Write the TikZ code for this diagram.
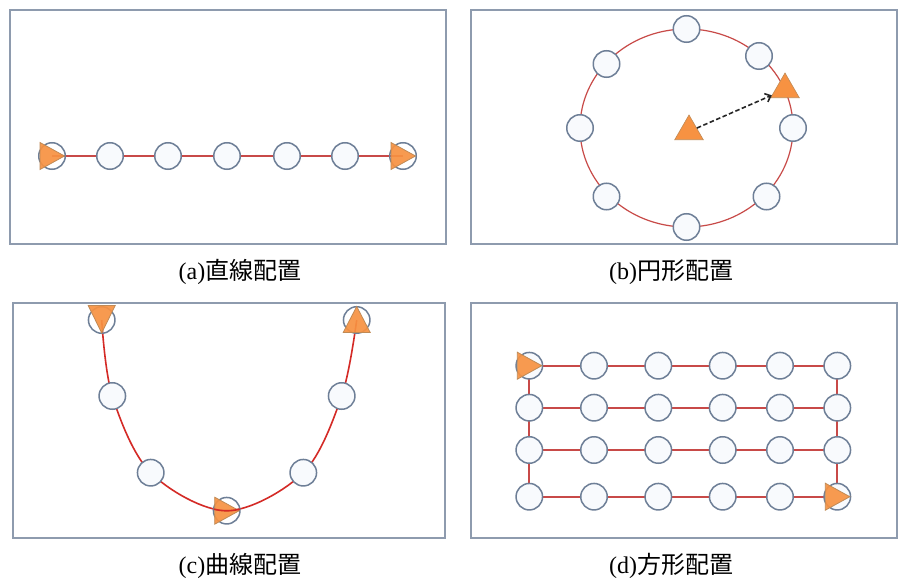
\documentclass[tikz,border=0pt]{standalone}
\usepackage{fontspec}
\setmainfont{Liberation Serif}
\newfontfamily\jp{Noto Sans CJK JP}
\usetikzlibrary{shapes.geometric,arrows.meta,calc}
\pgfdeclarelayer{panelL}
\pgfdeclarelayer{bg}
\pgfdeclarelayer{fg}
\pgfsetlayers{panelL,bg,main,fg}
\definecolor{framec}{HTML}{8E9BAE}
\definecolor{redl}{HTML}{C84A48}
\definecolor{redc}{HTML}{D42A26}
\definecolor{nodeb}{HTML}{6E7F97}
\definecolor{nodef}{HTML}{F8FAFD}
\definecolor{orangef}{HTML}{F79242}
\definecolor{oranged}{HTML}{C08A55}
\tikzset{
  panel/.style={draw=framec, line width=2pt, fill=white},
  nd/.style={circle, draw=nodeb, fill=nodef, line width=1.5pt, minimum size=26.5pt, inner sep=0pt},
  ndo/.style={circle, draw=nodeb, line width=1.5pt, minimum size=26.5pt, inner sep=0pt},
  tri/.style={fill=orangef, draw=oranged, line width=0.8pt, fill opacity=0.92},
  trinode/.style={regular polygon, regular polygon sides=3, fill=orangef, draw=oranged, line width=0.6pt, minimum size=33pt, inner sep=0pt},
  redline/.style={draw=redl, line width=2pt},
  redthin/.style={draw=redl, line width=1.2pt},
  redcurve/.style={draw=redc, line width=1.6pt},
  captxt/.style={font=\fontsize{24}{28}\selectfont},
  dasharrow/.style={draw=black!85, line width=1.6pt, dash pattern=on 4.5pt off 2.5pt, -{Straight Barb[length=5pt,width=9pt]}},
  triR/.pic={\path[tri] (-12,-13.5) -- (12.5,0) -- (-12,13.5) -- cycle;},
  triD/.pic={\path[tri] (-13.5,-14.5) -- (13.5,-14.5) -- (0,13) -- cycle;},
  triU/.pic={\path[tri] (0,-13.5) -- (13.5,12.5) -- (-13.5,12.5) -- cycle;}
}
\begin{document}
\begin{tikzpicture}[x=1pt,y=-1pt]
\useasboundingbox (0,0) rectangle (899,580);
% panels
\begin{pgfonlayer}{panelL}
\path[panel] (10,10) rectangle (446,244);
\path[panel] (471,10) rectangle (897,244);
\path[panel] (13,303) rectangle (445,538);
\path[panel] (471,303) rectangle (897,538);
\end{pgfonlayer}
% captions
\node[captxt] (capa) at (240,272) {(a){\jp 直線配置}};
\node[captxt] (capb) at (671,272) {(b){\jp 円形配置}};
\node[captxt] (capc) at (240,566) {(c){\jp 曲線配置}};
\node[captxt] (capd) at (671,566) {(d){\jp 方形配置}};

% ---------- (a) ----------
\node[ndo] (a1) at (52,156) {};
\node[nd]  (a2) at (110,156) {};
\node[nd]  (a3) at (168,156) {};
\node[nd]  (a4) at (227,156) {};
\node[nd]  (a5) at (287,156) {};
\node[nd]  (a6) at (345,156) {};
\node[ndo] (a7) at (403,156) {};
\begin{pgfonlayer}{bg}
\draw[redline] (a1.center) -- (a7.center);
\end{pgfonlayer}
\begin{pgfonlayer}{fg}
\pic at (a1) {triR};
\pic at (a7) {triR};
\end{pgfonlayer}

% ---------- (b) ----------
\coordinate (bc) at (686.5,128);
\begin{pgfonlayer}{bg}
\draw[redthin] (bc) ellipse [x radius=106.5, y radius=99];
\end{pgfonlayer}
\node[nd] (b1) at (686.5,29) {};
\node[nd] (b2) at (759,56) {};
\node[nd] (b3) at (793,128) {};
\node[nd] (b4) at (766.5,196.5) {};
\node[nd] (b5) at (686.5,227) {};
\node[nd] (b6) at (606.5,196.5) {};
\node[nd] (b7) at (580,128) {};
\node[nd] (b8) at (606.5,64) {};
\node[trinode] (bt1) at (689,131.5) {};
\node[trinode] (bt2) at (785,89.5) {};
\draw[dasharrow] (bt1) -- (bt2);

% ---------- (c) ----------
\node[ndo] (c1) at (101.7,320) {};
\node[nd]  (c2) at (112.3,396) {};
\node[nd]  (c3) at (150.7,472.7) {};
\node[ndo] (c4) at (226.7,510.7) {};
\node[nd]  (c5) at (303.3,472.7) {};
\node[nd]  (c6) at (341.7,396) {};
\node[ndo] (c7) at (356.7,320) {};
\begin{pgfonlayer}{bg}
\draw[redcurve] plot[smooth, tension=0.55] coordinates {(c1) (c2) (c3) (c4) (c5) (c6) (c7)};
\end{pgfonlayer}
\begin{pgfonlayer}{fg}
\pic at (c1) {triD};
\pic at (c7) {triU};
\pic at (c4) {triR};
\draw[redcurve] ($(c4.center)+(-13,-1.5)$) to[out=-12, in=192] ($(c4.center)+(13,-1.5)$);
\end{pgfonlayer}

% ---------- (d) ----------
\foreach \r/\y in {1/365.7,2/407.7,3/450,4/496.7}{
  \foreach \c/\x in {1/529.3,2/594,3/658.3,4/722.7,5/780,6/837.3}{
    \node[nd] (d\r\c) at (\x,\y) {};
  }
}
\begin{pgfonlayer}{bg}
\foreach \r in {1,2,3,4}{
  \draw[redline] (d\r1.center) -- (d\r6.center);
}
\draw[redline] (d11.center) -- (d41.center);
\draw[redline] (d16.center) -- (d46.center);
\end{pgfonlayer}
\begin{pgfonlayer}{fg}
\pic at (d11) {triR};
\pic at (d46) {triR};
\end{pgfonlayer}
\end{tikzpicture}
\end{document}
